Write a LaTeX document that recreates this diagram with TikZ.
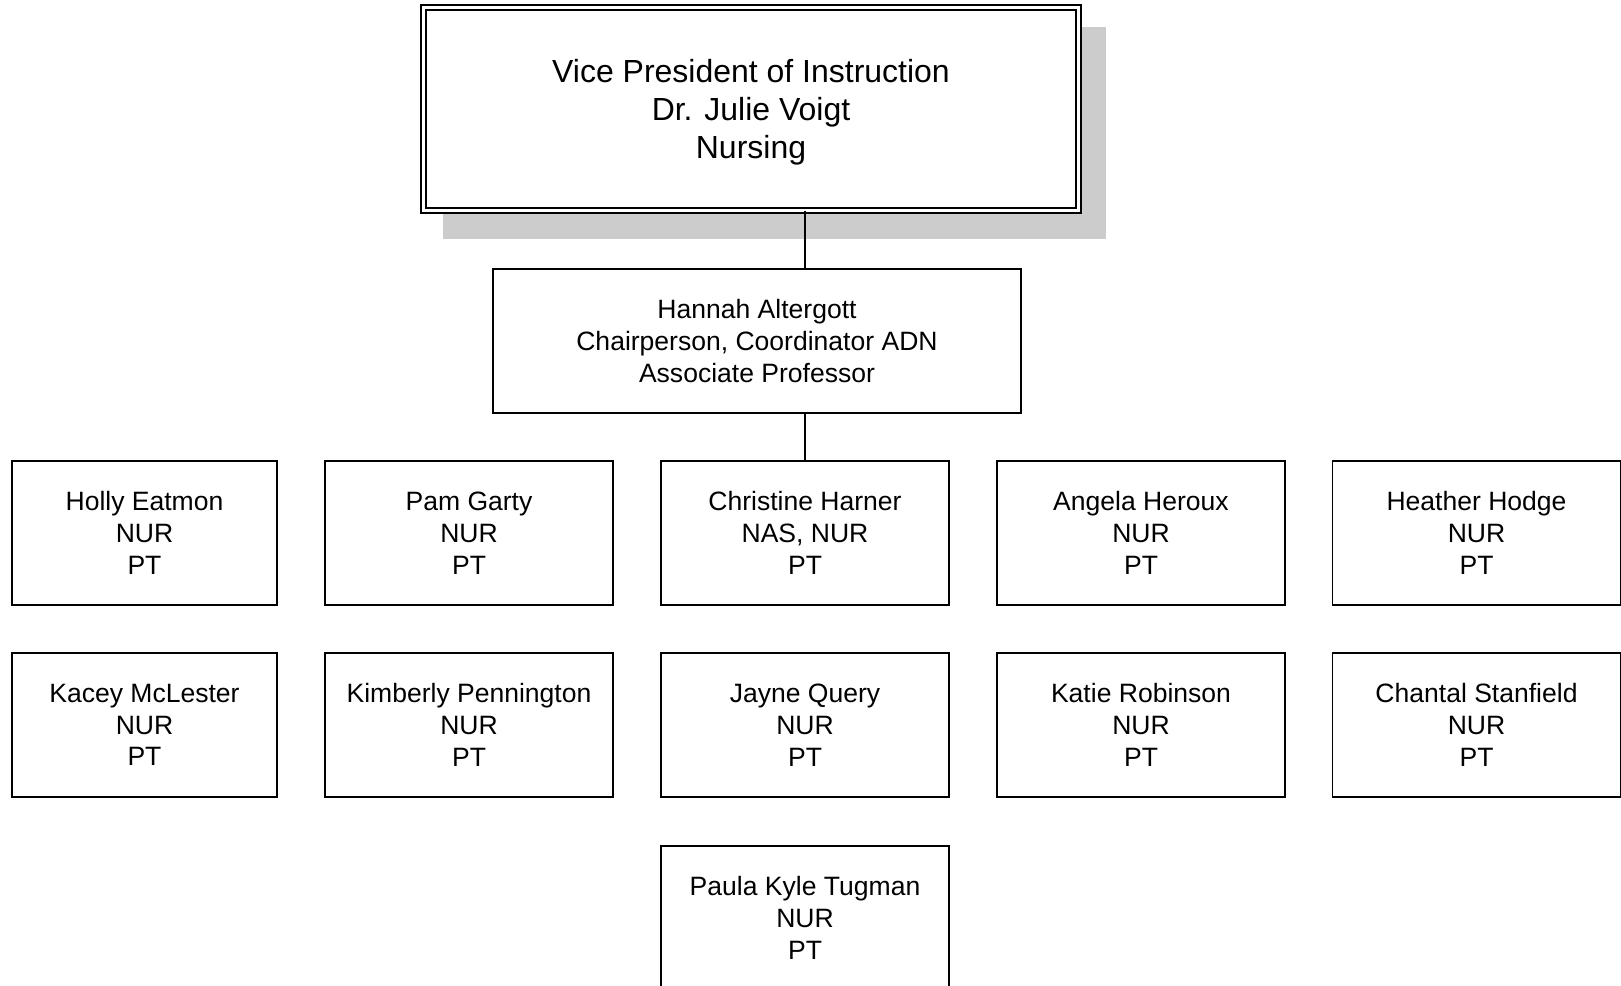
\documentclass[tikz,border=0pt]{standalone}
\usepackage{fontspec}
\setmainfont{Liberation Sans}
\usepackage{xcolor}
\usetikzlibrary{backgrounds}
\definecolor{shadowgray}{RGB}{204,204,204}

\begin{document}
\begin{tikzpicture}[
  staff/.style={draw, line width=1.1pt, align=center, inner sep=0pt,
    minimum width=5.76cm, minimum height=2.88cm,
    font=\fontsize{15.1}{18.1}\selectfont},
  link/.style={line width=0.8pt}]
\useasboundingbox (0,0) rectangle (32.42,-19.72);

% --- Top: vice president (double frame) ---
\node[draw, double, double distance=1.8pt, line width=1pt, fill=white,
  minimum width=13.1cm, minimum height=4.06cm, align=center, inner sep=0pt,
  font=\fontsize{18.2}{21.6}\selectfont] (vp) at (15.02,-2.18)
  {\rule{0pt}{17pt}Vice President of Instruction\\Dr. Julie Voigt\\Nursing};
% grey shadow behind it
\begin{scope}[on background layer]
  \fill[shadowgray] ([shift={(0.41,-0.55)}]vp.south west)
    rectangle ([shift={(0.53,-0.41)}]vp.north east);
\end{scope}

% --- Chairperson ---
\node[staff, minimum width=10.56cm] (altergott) at (15.14,-6.82)
  {Hannah Altergott\\Chairperson, Coordinator ADN\\Associate Professor};

% --- First row ---
\node[staff, minimum width=5.3cm] (eatmon) at (2.89,-10.66) {Holly Eatmon\\NUR\\PT};
\node[staff] (garty) at (9.38,-10.66) {Pam Garty\\NUR\\PT};
\node[staff] (harner) at (16.1,-10.66) {Christine Harner\\NAS, NUR\\PT};
\node[staff] (heroux) at (22.82,-10.66) {Angela Heroux\\NUR\\PT};
\node[staff] (hodge) at (29.53,-10.66) {Heather Hodge\\NUR\\PT};

% --- Second row ---
\node[staff, minimum width=5.3cm] (mclester) at (2.89,-14.5) {Kacey McLester\\NUR\\PT};
\node[staff] (pennington) at (9.38,-14.5) {Kimberly Pennington\\NUR\\PT};
\node[staff] (query) at (16.1,-14.5) {Jayne Query\\NUR\\PT};
\node[staff] (robinson) at (22.82,-14.5) {Katie Robinson\\NUR\\PT};
\node[staff] (stanfield) at (29.53,-14.5) {Chantal Stanfield\\NUR\\PT};

% --- Third row (cut by the page edge) ---
\node[staff] (tugman) at (16.1,-18.36) {Paula Kyle Tugman\\NUR\\PT};

% Connectors
\draw[link] (vp.south -| harner.north) -- (altergott.north -| harner.north);
\draw[link] (altergott.south -| harner.north) -- (harner.north);

\end{tikzpicture}
\end{document}
